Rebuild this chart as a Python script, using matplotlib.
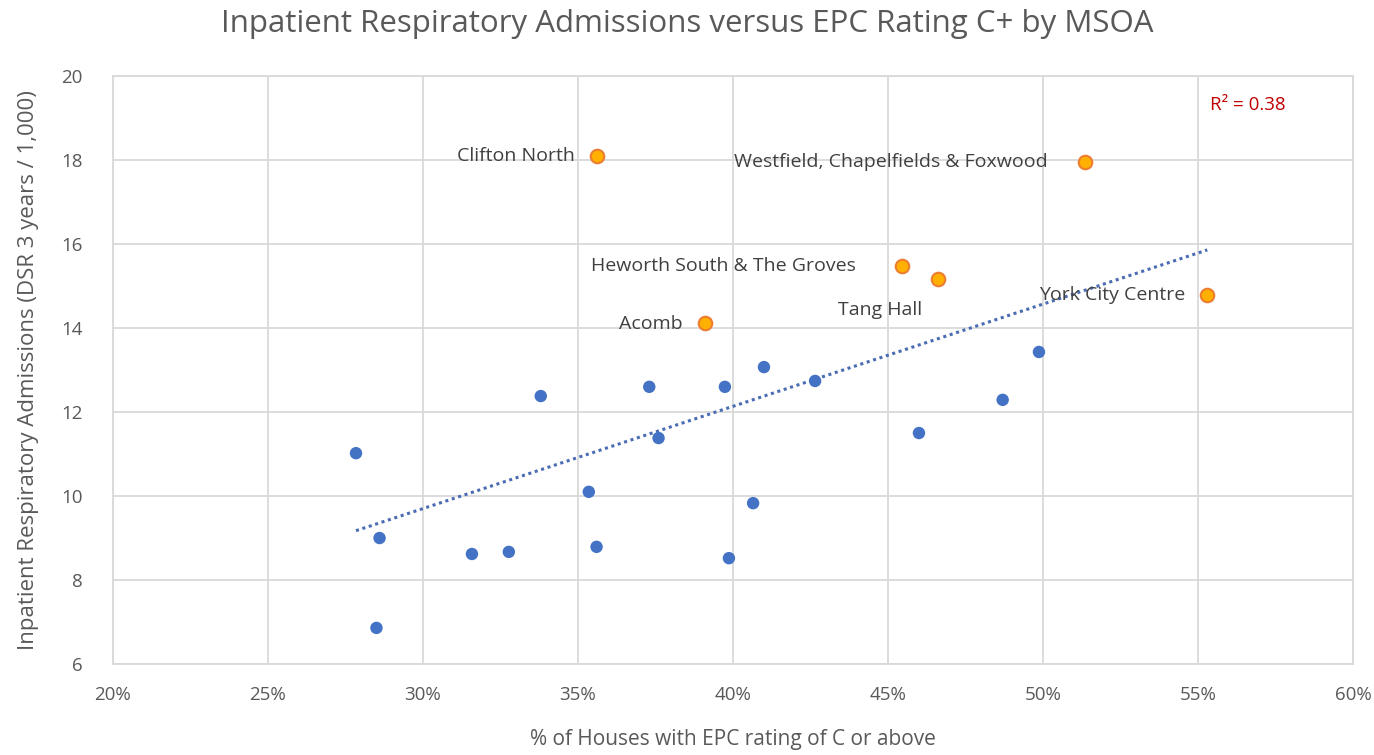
import numpy as np
import matplotlib
matplotlib.use("Agg")
import matplotlib.pyplot as plt
from matplotlib.ticker import FuncFormatter, MultipleLocator

# % of houses with EPC C+ (x) and respiratory admissions DSR (y)
blue_x = [27.84, 28.6, 28.5, 31.58, 32.77, 33.8, 35.35, 35.6, 37.3, 37.6,
          39.74, 39.87, 40.65, 41.0, 42.65, 46.0, 48.7, 49.87]
blue_y = [11.02, 9.0, 6.86, 8.62, 8.67, 12.38, 10.1, 8.79, 12.6, 11.38,
          12.6, 8.52, 9.83, 13.07, 12.74, 11.5, 12.29, 13.43]

named = ["Clifton North", "Westfield, Chapelfields & Foxwood",
         "Heworth South & The Groves", "Tang Hall", "York City Centre", "Acomb"]
named_x = [35.6, 51.35, 45.45, 46.6, 55.3, 39.1]
named_y = [18.1, 17.95, 15.48, 15.17, 14.79, 14.12]
r2_label = 0.38

plt.rcParams['font.family'] = ['Open Sans', 'DejaVu Sans']
grey = '#595959'

fig = plt.figure(figsize=(13.74, 7.55), dpi=100)
ax = fig.add_axes([0.0822, 0.1205, 0.9025, 0.7788])

# linear trendline over all points
all_x = np.array(blue_x + named_x)
all_y = np.array(blue_y + named_y)
m, c = np.polyfit(all_x, all_y, 1)
tx = np.array([all_x.min(), all_x.max()])
ax.plot(tx, m*tx + c, linestyle=(0, (1, 1.2)), color='#4A6CB3', lw=2.2, zorder=2)

ax.scatter(blue_x, blue_y, s=80, color='#4472C4', edgecolors='none', zorder=3)
ax.scatter(named_x, named_y, s=95, color='#FFB000', edgecolors='#ED7D31',
           linewidths=1.5, zorder=3)

# labels: (offset in pixels, alignment)
offsets = [(-22, 0, 'right'), (-37, 0, 'right'), (-46, 0, 'right'),
           (-58, -31, 'center'), (-22, 0, 'right'), (-22, -1, 'right')]
for name, x, y, (dx, dy, ha) in zip(named, named_x, named_y, offsets):
    ax.annotate(name, (x, y), xytext=(dx, dy), textcoords='offset pixels',
                ha=ha, va='center', fontsize=14, color='#404040')

ax.text(55.39, 19.3, f"R² = {r2_label:.2f}", color='#C00000', fontsize=13.5,
        va='center', ha='left')

ax.set_xlim(20, 60)
ax.set_ylim(6, 20)
ax.xaxis.set_major_locator(MultipleLocator(5))
ax.yaxis.set_major_locator(MultipleLocator(2))
ax.xaxis.set_major_formatter(FuncFormatter(lambda v, p: f"{v:.0f}%"))
ax.grid(True, color='#D9D9D9', lw=1.3)
ax.set_axisbelow(True)
for s in ax.spines.values():
    s.set_color('#D9D9D9')
    s.set_linewidth(1.3)
ax.tick_params(length=0, labelsize=13.5, labelcolor=grey)
ax.tick_params(axis='x', pad=16)
ax.tick_params(axis='y', pad=22)

ax.set_xlabel('% of Houses with EPC rating of C or above', fontsize=15,
              color=grey, labelpad=18)
ax.set_ylabel('Inpatient Respiratory Admissions (DSR 3 years / 1,000)',
              fontsize=16, color=grey, labelpad=16)
fig.suptitle('Inpatient Respiratory Admissions versus EPC Rating C+ by MSOA',
             fontsize=22.5, color=grey, y=0.988)

fig.savefig('out.png', dpi=100)
